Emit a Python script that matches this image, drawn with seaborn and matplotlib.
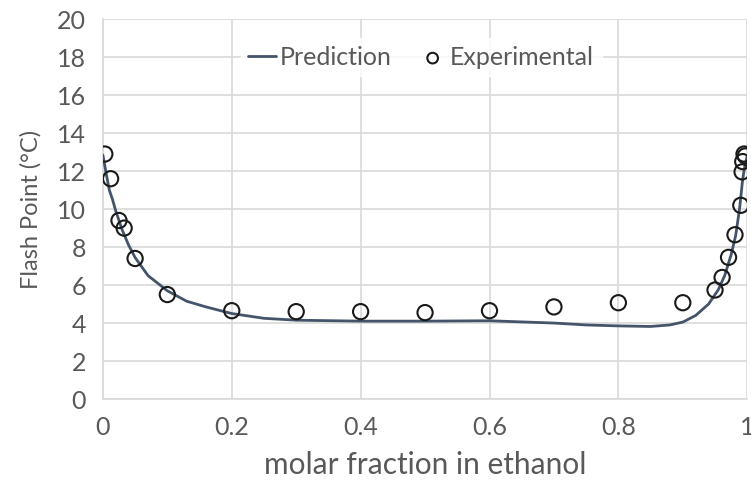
import numpy as np
import matplotlib
matplotlib.use("Agg")
import matplotlib.pyplot as plt
import seaborn as sns
import pandas as pd

# prediction curve
pred_x = [0, 0.005, 0.01, 0.015, 0.02, 0.03, 0.04, 0.05, 0.07, 0.1, 0.13, 0.16, 0.2, 0.25,
          0.3, 0.4, 0.5, 0.6, 0.7, 0.75, 0.8, 0.85, 0.88, 0.9, 0.92, 0.94, 0.955, 0.965,
          0.975, 0.982, 0.988, 0.993, 0.997, 1.0]
pred_y = [12.85, 11.9, 11.0, 10.5, 9.9, 8.9, 8.1, 7.45, 6.5, 5.7, 5.15, 4.85, 4.5, 4.25,
          4.15, 4.1, 4.1, 4.12, 4.0, 3.9, 3.85, 3.82, 3.9, 4.05, 4.4, 5.0, 5.75, 6.5,
          7.6, 8.6, 10.0, 11.6, 12.4, 12.8]

# experimental points
exp_x = [0.003, 0.012, 0.025, 0.033, 0.05, 0.1, 0.2, 0.3, 0.4, 0.5, 0.6, 0.7, 0.8, 0.9,
         0.95, 0.961, 0.971, 0.981, 0.99, 0.992, 0.993, 0.995, 0.997]
exp_y = [12.9, 11.6, 9.4, 9.0, 7.4, 5.5, 4.65, 4.6, 4.6, 4.55, 4.65, 4.85, 5.07, 5.07,
         5.74, 6.4, 7.46, 8.65, 10.2, 11.96, 12.5, 12.9, 12.8]

pred = pd.DataFrame({"x": pred_x, "y": pred_y})
exp = pd.DataFrame({"x": exp_x, "y": exp_y})

sns.set_style("white")
plt.rcParams["font.family"] = ["Lato", "DejaVu Sans"]

fig = plt.figure(figsize=(7.51, 4.92), dpi=100)
ax = fig.add_axes([0.137, 0.189, 0.858, 0.772])

grid_c = "#d9d9d9"
text_c = "#595959"

sns.lineplot(data=pred, x="x", y="y", ax=ax, color="#44546A", linewidth=2.0,
             label="Prediction", sort=False, zorder=3)
sns.scatterplot(data=exp, x="x", y="y", ax=ax, marker="o", s=120,
                facecolor="none", edgecolor="#1a1a1a", linewidth=1.5,
                label="Experimental", zorder=4)

ax.set_xlim(0, 1)
ax.set_ylim(0, 20)
ax.set_xticks(np.arange(0, 1.01, 0.2))
ax.set_xticklabels(["0", "0.2", "0.4", "0.6", "0.8", "1"])
ax.set_yticks(np.arange(0, 21, 2))
ax.grid(True, color=grid_c, linewidth=1.2)
ax.set_axisbelow(True)
for s in ["top", "right"]:
    ax.spines[s].set_visible(False)
for s in ["left", "bottom"]:
    ax.spines[s].set_color(grid_c)
    ax.spines[s].set_linewidth(1.2)
ax.tick_params(axis="both", length=0, labelsize=18, labelcolor=text_c, pad=12)

ax.set_xlabel("molar fraction in ethanol", fontsize=21.5, color=text_c, labelpad=9)
ax.set_ylabel("Flash Point (°C)", fontsize=17, color=text_c, labelpad=11)

leg = ax.legend(loc="center", bbox_to_anchor=(0.494, 0.9), ncol=2, frameon=True,
                fontsize=18, handlelength=1.1, handletextpad=0.15, columnspacing=1.1,
                borderpad=0.3, fancybox=False, markerscale=0.7)
leg.get_frame().set_facecolor("white")
leg.get_frame().set_edgecolor("white")
for t in leg.get_texts():
    t.set_color(text_c)

fig.savefig("out.png", dpi=100)
